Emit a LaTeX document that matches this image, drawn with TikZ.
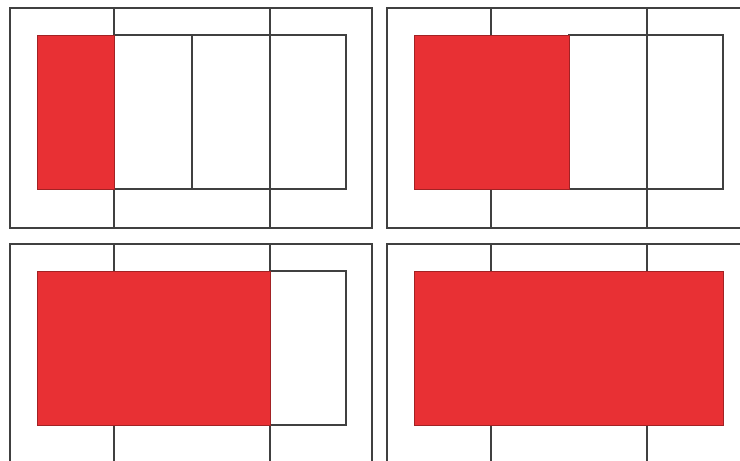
\documentclass[tikz,border=0pt]{standalone}
\usepackage{tikz}
\usepackage{xcolor}

\definecolor{levelred}{RGB}{232,48,52}
\definecolor{gridgray}{RGB}{64,64,64}

\begin{document}
\begin{tikzpicture}[x=0.05cm, y=-0.05cm, line width=2pt,
	gridline/.style={draw=gridgray},
	levelfill/.style={fill=levelred, draw=levelred!70!black, line width=0.8pt}]
	\useasboundingbox (0,0) rectangle (740,461);
	\clip (0,0) rectangle (740,461);

	% One quarter
	\draw[gridline] (10,8) rectangle (372,228);
	\draw[gridline] (114,8) -- (114,228);
	\draw[gridline] (270,8) -- (270,228);
	\draw[gridline] (114,35) rectangle (346,189);
	\draw[gridline] (192,35) -- (192,189);
	\draw[levelfill] (37,35) rectangle (114,189);

	% Two quarters
	\draw[gridline] (387,8) rectangle (749,228);
	\draw[gridline] (491,8) -- (491,228);
	\draw[gridline] (647,8) -- (647,228);
	\draw[gridline] (569,35) rectangle (723,189);
	\draw[levelfill] (414,35) rectangle (569,189);

	% Three quarters
	\draw[gridline] (10,244) rectangle (372,470);
	\draw[gridline] (114,244) -- (114,470);
	\draw[gridline] (270,244) -- (270,470);
	\draw[gridline] (270,271) rectangle (346,425);
	\draw[levelfill] (37,271) rectangle (270,425);

	% Four quarters
	\draw[gridline] (387,244) rectangle (749,470);
	\draw[gridline] (491,244) -- (491,470);
	\draw[gridline] (647,244) -- (647,470);
	\draw[levelfill] (414,271) rectangle (723,425);
\end{tikzpicture}
\end{document}
